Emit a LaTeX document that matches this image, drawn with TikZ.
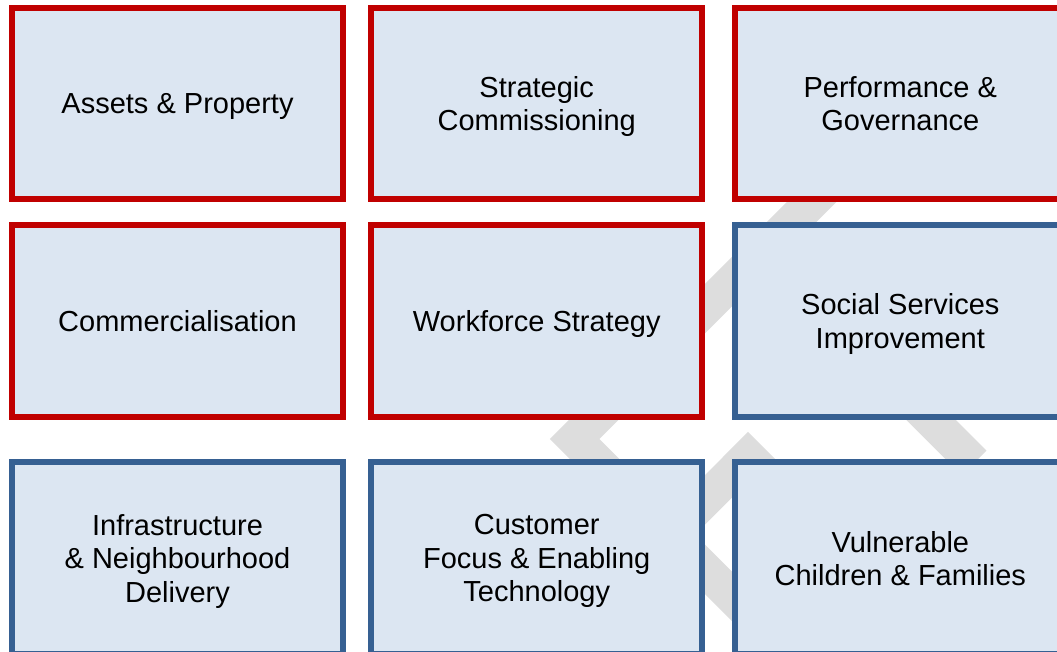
\documentclass[tikz,border=0pt]{standalone}
\usepackage{fontspec}
\setmainfont{Liberation Sans}
\definecolor{boxred}{HTML}{C00000}
\definecolor{boxblue}{HTML}{366092}
\definecolor{boxfill}{HTML}{DCE6F2}
\definecolor{wmgray}{HTML}{DDDDDD}
\begin{document}
\begin{tikzpicture}[x=1pt,y=-1pt,
  card/.style={rectangle, draw, line width=6pt, fill=boxfill,
    minimum width=331pt, minimum height=191.8pt, inner sep=0pt, outer sep=0pt,
    align=center, font=\fontsize{29}{33.5}\selectfont, text=black,
    text depth=0pt},
  redcard/.style={card, draw=boxred},
  bluecard/.style={card, draw=boxblue},
  wmstroke/.style={draw=wmgray, line width=35pt, line join=miter, miter limit=10, line cap=butt}]
\useasboundingbox (0,0) rectangle (1057,652);
\clip (0,0) rectangle (1057,652);
% watermark strokes
\coordinate (wa1) at (990,23.5);
\coordinate (wa2) at (574.5,439);
\coordinate (wa3) at (800,664.5);
\draw[wmstroke] (wa1) -- (wa2) -- (wa3);
\coordinate (wb1) at (640,565);
\coordinate (wb2) at (748,456.7);
\coordinate (wb3) at (850,558.7);
\draw[wmstroke] (wb1) -- (wb2) -- (wb3);
\coordinate (wc1) at (820,309);
\coordinate (wc2) at (974,463);
\draw[wmstroke] (wc1) -- (wc2);
% boxes
\node[redcard] (n11) at (177.5,103.6) {Assets \& Property};
\node[redcard] (n12) at (536.7,103.6) {Strategic\\Commissioning};
\node[redcard] (n13) at (900.3,103.6) {Performance \&\\Governance};
\node[redcard] (n21) at (177.5,321.2) {Commercialisation};
\node[redcard] (n22) at (536.7,321.2) {Workforce Strategy};
\node[bluecard] (n23) at (900.3,321.2) {Social Services\\Improvement};
\node[bluecard] (n31) at (177.5,558.3) {Infrastructure\\\& Neighbourhood\\Delivery};
\node[bluecard] (n32) at (536.7,558.3) {Customer\\Focus \& Enabling\\Technology};
\node[bluecard] (n33) at (900.3,558.3) {Vulnerable\\Children \& Families};
\end{tikzpicture}
\end{document}
